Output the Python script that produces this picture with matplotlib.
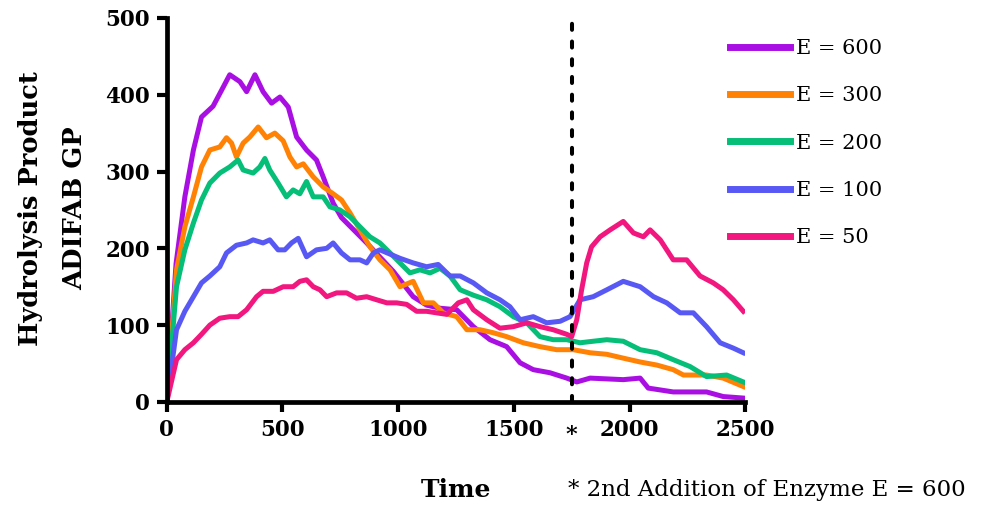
import matplotlib
matplotlib.use("Agg")
import matplotlib.pyplot as plt

# ---- data ----
t600 = [0, 40, 78, 115, 150, 200, 237, 272, 316, 345, 381, 416, 453, 489, 525, 561, 604, 647, 676, 719, 755,
        864, 979, 1065, 1123, 1181, 1253, 1325, 1397, 1469, 1527, 1584, 1656, 1729, 1772, 1830, 1973, 2046, 2081,
        2189, 2333, 2405, 2492]
v600 = [0, 180, 267, 328, 371, 385, 406, 426, 417, 404, 426, 404, 389, 397, 384, 345, 328, 315, 293, 259, 240,
        207, 170, 137, 126, 122, 120, 98, 81, 72, 51, 42, 38, 31, 26, 31, 29, 31, 18,
        13, 13, 7, 5]

t300 = [0, 42, 78, 115, 150, 186, 229, 258, 280, 301, 330, 359, 395, 431, 467, 503, 532, 561, 590, 633, 676,
        719, 755, 792, 835, 878, 921, 965, 1008, 1065, 1109, 1152, 1195, 1253, 1297, 1354, 1412, 1469, 1541,
        1613, 1685, 1757, 1830, 1902, 1973, 2046, 2118, 2189, 2233, 2333, 2405, 2492]
v300 = [0, 172, 228, 267, 306, 328, 332, 344, 337, 319, 337, 345, 358, 344, 350, 340, 319, 306, 310, 293, 280,
        271, 263, 246, 224, 202, 185, 172, 150, 157, 129, 129, 116, 111, 94, 94, 90, 85, 77,
        72, 68, 68, 64, 62, 57, 52, 48, 42, 35, 35, 31, 20]

t200 = [0, 42, 78, 115, 150, 186, 229, 272, 308, 330, 373, 402, 424, 445, 481, 517, 546, 575, 604, 633, 676,
        705, 748, 792, 835, 878, 921, 965, 1008, 1051, 1094, 1138, 1181, 1224, 1268, 1325, 1383, 1440, 1498,
        1556, 1613, 1670, 1729, 1786, 1843, 1902, 1973, 2046, 2118, 2189, 2262, 2333, 2420, 2492]
v200 = [0, 150, 198, 233, 263, 285, 298, 306, 315, 302, 298, 306, 317, 302, 285, 267, 276, 271, 287, 267, 267,
        254, 250, 241, 228, 215, 207, 194, 181, 168, 172, 168, 174, 164, 146, 139, 133, 124, 111,
        103, 85, 81, 81, 77, 79, 81, 79, 68, 64, 55, 46, 33, 35, 26]

t100 = [0, 42, 78, 115, 150, 186, 229, 258, 301, 345, 373, 416, 445, 481, 510, 539, 568, 604, 647, 691, 719,
        755, 792, 835, 864, 893, 921, 1008, 1065, 1123, 1173, 1224, 1268, 1325, 1383, 1440, 1483, 1527, 1584,
        1642, 1700, 1743, 1786, 1843, 1902, 1973, 2046, 2104, 2161, 2219, 2276, 2333, 2392, 2449, 2492]
v100 = [0, 94, 118, 137, 155, 164, 176, 194, 204, 207, 211, 207, 211, 198, 198, 207, 213, 189, 198, 200, 207,
        194, 185, 185, 181, 194, 198, 187, 181, 176, 179, 164, 164, 155, 142, 133, 124, 107, 111,
        103, 105, 111, 133, 137, 146, 157, 150, 137, 129, 116, 116, 98, 77, 70, 64]

t50 = [0, 42, 78, 115, 150, 186, 229, 272, 308, 345, 388, 416, 460, 503, 546, 575, 604, 633, 662, 691, 734,
       777, 820, 864, 907, 951, 994, 1037, 1080, 1123, 1166, 1210, 1260, 1297, 1325, 1383, 1440, 1498, 1556,
       1613, 1670, 1729, 1750, 1772, 1793, 1815, 1836, 1873, 1916, 1973, 2017, 2060, 2089, 2133, 2189, 2247,
       2305, 2362, 2405, 2449, 2492]
v50 = [0, 55, 68, 77, 88, 100, 109, 111, 111, 120, 137, 144, 144, 150, 150, 157, 159, 150, 146, 137, 142,
       142, 135, 137, 133, 129, 129, 127, 118, 118, 116, 114, 129, 133, 120, 107, 96, 98, 103,
       98, 94, 88, 85, 107, 146, 181, 202, 215, 224, 235, 220, 215, 224, 211, 185, 185,
       164, 155, 146, 133, 118]

series = [
    ("E = 600", t600, v600, "#A90FE3"),
    ("E = 300", t300, v300, "#FF8205"),
    ("E = 200", t200, v200, "#05BE78"),
    ("E = 100", t100, v100, "#5858F5"),
    ("E = 50", t50, v50, "#F2167F"),
]
addition_time = 1750
x_ticks = [0, 500, 1000, 1500, 2000, 2500]
y_ticks = [0, 100, 200, 300, 400, 500]

FONT = "DejaVu Serif"
plt.rcParams["font.family"] = FONT

fig = plt.figure(figsize=(9.87, 5.12), dpi=100)
ax = fig.add_axes([0.169, 0.215, 0.586, 0.75])

for name, t, v, c in series:
    ax.plot(t, v, color=c, lw=3.6, label=name, solid_joinstyle="round")

ax.axvline(addition_time, color="black", lw=2.9, ls=(0, (1.5, 2.9)), dash_capstyle="round",
           ymax=1.01, clip_on=False, zorder=5)

ax.set_xlim(0, 2500)
ax.set_ylim(0, 500)
ax.set_xticks(x_ticks)
ax.set_yticks(y_ticks)
ax.set_xticklabels([str(x) for x in x_ticks], fontweight="bold", fontsize=15.5)
ax.set_yticklabels([str(y) for y in y_ticks], fontweight="bold", fontsize=15.5)
ax.tick_params(axis="both", direction="out", length=7, width=3, pad=5)
for s in ["top", "right"]:
    ax.spines[s].set_visible(False)
for s in ["left", "bottom"]:
    ax.spines[s].set_linewidth(3.4)

ax.text(addition_time, -0.087, "*", transform=ax.get_xaxis_transform(), ha="center", va="center",
        fontsize=16, fontweight="bold")

fig.text(0.053, 0.593, "Hydrolysis Product\nADIFAB GP", fontsize=18.5, fontweight="bold",
         rotation=90, ha="center", va="center", multialignment="center", linespacing=1.95)
fig.text(0.462, 0.043, "Time", fontsize=18, fontweight="bold", ha="center", va="center")
fig.text(0.575, 0.043, "* 2nd Addition of Enzyme E = 600", fontsize=16.5, ha="left", va="center")

leg = ax.legend(loc="upper left", bbox_to_anchor=(0.974, 0.945), frameon=False, fontsize=15,
                handlelength=2.85, handletextpad=0.3, labelspacing=1.36, borderpad=0,
                borderaxespad=0)
for line in leg.get_lines():
    line.set_linewidth(5)

fig.savefig("out.png", dpi=100)
